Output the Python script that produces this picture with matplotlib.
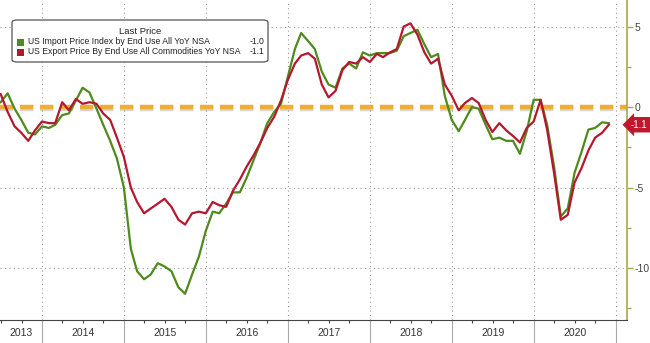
import matplotlib
matplotlib.use('Agg')
import matplotlib.pyplot as plt
import matplotlib.dates as mdates
import matplotlib.patheffects as pe
from matplotlib.patches import FancyBboxPatch
from matplotlib.ticker import MultipleLocator
import pandas as pd
import numpy as np

plt.rcParams['font.family'] = ['Liberation Sans', 'DejaVu Sans']

# monthly YoY % values, Jun 2013 .. Nov 2020
import_yoy = [
    0.3, 0.85, -0.1, -0.8, -1.6, -1.7, -1.2,                          # 2013 Jun-Dec
    -1.3, -1.1, -0.5, -0.4, 0.4, 1.2, 0.9, -0.1, -1.1, -2.1, -3.2, -5.0,  # 2014
    -8.8, -10.2, -10.7, -10.4, -9.7, -9.9, -10.2, -11.2, -11.6, -10.4, -9.3, -7.7,  # 2015
    -6.5, -6.6, -6.0, -5.3, -5.3, -4.4, -3.3, -2.2, -1.0, -0.3, 0.2, 1.9,  # 2016
    3.6, 4.6, 4.1, 3.6, 2.2, 1.4, 1.2, 2.4, 2.7, 2.4, 3.4, 3.2,            # 2017
    3.35, 3.35, 3.35, 3.5, 4.4, 4.6, 4.8, 3.9, 3.1, 3.3, 0.7, -0.8,        # 2018
    -1.5, -0.8, 0.0, -0.1, -1.1, -2.0, -1.9, -2.1, -2.1, -2.9, -1.5, 0.45,  # 2019
    0.45, -1.1, -3.7, -6.8, -6.3, -4.1, -2.8, -1.4, -1.3, -0.95, -1.0,     # 2020
]
export_yoy = [
    0.8, -0.3, -1.2, -1.6, -2.1, -1.45, -0.9,
    -1.0, -1.0, 0.3, -0.2, 0.5, 0.2, 0.3, 0.2, -0.4, -0.8, -1.9, -3.1,
    -5.0, -5.9, -6.6, -6.3, -6.0, -5.7, -6.2, -7.0, -7.3, -6.6, -6.5, -6.6,
    -5.9, -6.1, -6.2, -5.2, -4.5, -3.7, -3.0, -2.2, -1.3, -0.6, 0.4, 1.7,
    2.7, 3.2, 3.35, 3.0, 1.4, 0.6, 1.0, 2.3, 2.8, 2.7, 3.1, 2.8,
    3.3, 3.1, 3.4, 3.6, 5.0, 5.2, 4.5, 3.4, 2.7, 3.0, 1.4, 0.7,
    -0.2, 0.25, 0.56, 0.25, -0.8, -1.55, -1.0, -1.45, -1.8, -2.2, -1.3, -0.9,
    0.45, -1.4, -4.1, -7.0, -6.7, -4.7, -3.8, -2.7, -1.9, -1.6, -1.1,
]
dates = pd.date_range('2013-06-30', periods=len(import_yoy), freq='ME')
years = list(range(2013, 2021))
yticks = [5, 0, -5, -10]
import_label = 'US Import Price Index by End Use All YoY NSA'
export_label = 'US Export Price By End Use All Commodities YoY NSA'

green = '#4F8A1C'
red = '#B5172E'

fig = plt.figure(figsize=(6.5, 3.43), dpi=100)
ax = fig.add_axes([0.0, 1 - 320 / 343, 627 / 650, 320 / 343])

xmin = pd.Timestamp('2013-06-27')
xmax = pd.Timestamp('2021-02-19')
ax.set_xlim(xmin, xmax)
ax.set_ylim(-13.23, 6.65)

# grid
for v in yticks:
    if v != 0:
        ax.axhline(v, color='#999999', lw=0.8, ls=(0, (1, 3)), zorder=1)
ax.xaxis.set_major_locator(mdates.YearLocator())
ax.xaxis.set_minor_locator(mdates.MonthLocator(bymonth=[4, 7, 10]))
ax.grid(axis='x', which='major', color='#999999', lw=0.8, ls=(0, (1, 3)))

ax.axhline(0, color='#F0AE2E', lw=3.2, dashes=(3.0, 1.5), zorder=2,
           path_effects=[pe.SimpleLineShadow(offset=(0, -1.5), shadow_color='#888888', alpha=0.35),
                         pe.Normal()])

ax.plot(dates, import_yoy, color=green, lw=1.6, zorder=3)
ax.plot(dates, export_yoy, color=red, lw=1.6, zorder=4)

# spines / ticks
for s in ['left', 'top']:
    ax.spines[s].set_visible(False)
ax.spines['right'].set_color('#A8A848')
ax.spines['right'].set_linewidth(1.2)
ax.spines['bottom'].set_color('#444444')
ax.spines['bottom'].set_linewidth(0.8)

ax.yaxis.tick_right()
ax.set_yticks(yticks)
ax.set_yticklabels([str(v) for v in yticks])
ax.yaxis.set_minor_locator(MultipleLocator(2.5))
ax.tick_params(axis='y', which='major', direction='out', length=4, width=1, color='#A8A848',
               labelsize=7.5, labelcolor='#444444', pad=1.5)
ax.tick_params(axis='y', which='minor', direction='out', length=3, width=1, color='#A8A848')

ax.tick_params(axis='x', which='major', direction='out', length=16.5, width=0.8, color='#AAAAAA',
               labelbottom=False)
ax.tick_params(axis='x', which='minor', direction='out', length=2.5, width=0.8, color='#444444')

# year labels centred in the visible part of each year
num_min, num_max = mdates.date2num(xmin), mdates.date2num(xmax)
label_pos = []
for y in years:
    a = max(mdates.date2num(pd.Timestamp(f'{y}-01-01')), num_min)
    b = min(mdates.date2num(pd.Timestamp(f'{y + 1}-01-01')), num_max)
    label_pos.append((a + b) / 2)
sec = ax.secondary_xaxis('bottom')
sec.set_xticks(label_pos)
sec.set_xticklabels([str(y) for y in years])
sec.tick_params(length=0, labelsize=7.5, labelcolor='#333333', pad=6)
sec.spines['bottom'].set_visible(False)

# legend box
box = FancyBboxPatch((12 / 627, 1 - 62 / 320), (268 - 12) / 627, (62 - 20) / 320,
                     boxstyle='round,pad=0,rounding_size=0.008', transform=ax.transAxes,
                     fc='white', ec='#555555', lw=0.9, zorder=10)
ax.add_patch(box)
ax.text(140 / 627, 1 - 31 / 320, 'Last Price', transform=ax.transAxes, ha='center', va='center',
        fontsize=6.8, color='#222222', zorder=11)
rows = [(import_label, import_yoy[-1], green, 42), (export_label, export_yoy[-1], red, 52)]
for lab, last, col, ypx in rows:
    yy = 1 - ypx / 320
    ax.add_patch(plt.Rectangle((17 / 627, yy - 3.5 / 320), 7 / 627, 7 / 320, transform=ax.transAxes,
                               fc=col, ec='none', zorder=11))
    ax.text(28 / 627, yy, lab, transform=ax.transAxes, ha='left', va='center',
            fontsize=6.2, color='#222222', zorder=11)
    ax.text(264 / 627, yy, f'{last:.1f}', transform=ax.transAxes, ha='right', va='center',
            fontsize=6.2, color='#222222', zorder=11)

# last value tag on the right axis
trans = matplotlib.transforms.blended_transform_factory(ax.transAxes, ax.transData)
ax.text(1.0064, export_yoy[-1], f'{export_yoy[-1]:.1f}', transform=trans, ha='left', va='center',
        fontsize=7, color='white', clip_on=False, zorder=12,
        bbox=dict(boxstyle='larrow,pad=0.28', fc='#C0172F', ec='none'))

fig.savefig('out.png', dpi=100)
